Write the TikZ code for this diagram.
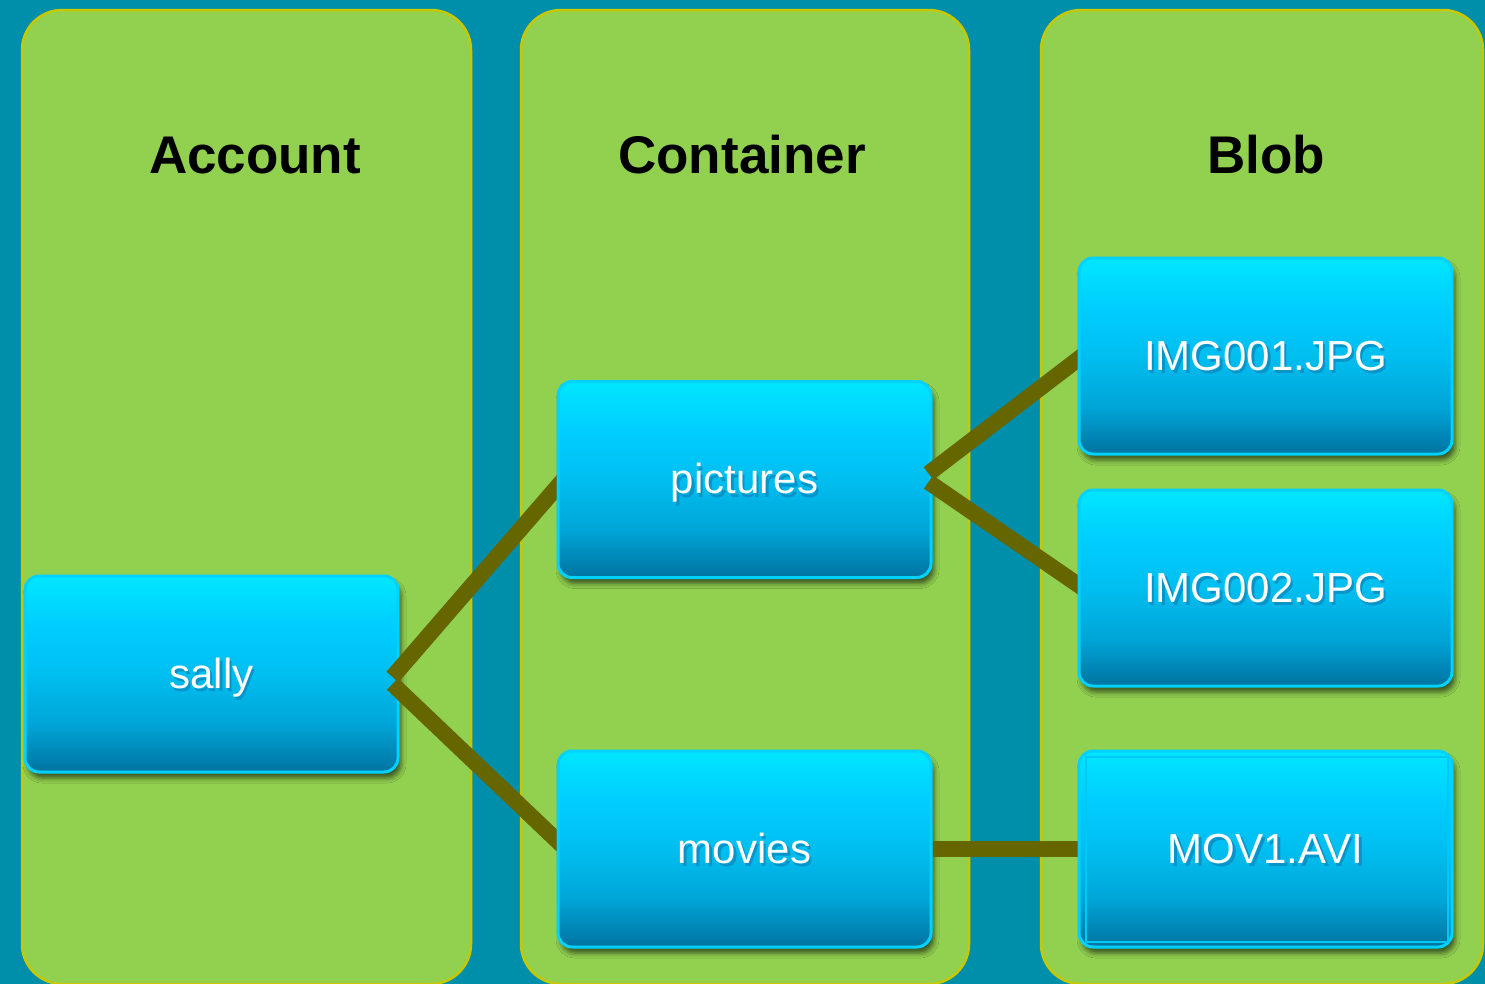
\documentclass[tikz,border=0pt]{standalone}
\usepackage{fontspec}
\setmainfont{Liberation Sans}
\usetikzlibrary{shadows.blur}
\definecolor{bgteal}{HTML}{008FAA}
\definecolor{panelfill}{HTML}{92D050}
\definecolor{panelline}{HTML}{C8C800}
\definecolor{conn}{HTML}{666600}
\definecolor{boxline}{HTML}{00D2FF}
\definecolor{innerline}{HTML}{00C8F2}
\definecolor{gtop}{HTML}{00E6FF}
\definecolor{gup}{HTML}{00CDFF}
\definecolor{gmid}{HTML}{00BEF0}
\definecolor{glow}{HTML}{00A5D7}
\definecolor{gbot}{HTML}{0073A0}
\definecolor{txtsh}{HTML}{0894C8}
\pgfdeclareverticalshading{boxgrad}{100bp}{color(0bp)=(gbot); color(25bp)=(gbot); color(37bp)=(glow); color(50bp)=(gmid); color(62bp)=(gup); color(75bp)=(gtop); color(100bp)=(gtop)}
\newcommand{\shtxt}[1]{%
  \makebox[0pt][l]{\hspace{2.5pt}\raisebox{-3.5pt}{\textcolor{txtsh}{#1}}}#1}
\tikzset{
  panel/.style={fill=panelfill, draw=panelline, line width=2.5pt, rounded corners=40pt},
  title/.style={anchor=base, font=\fontsize{53}{60}\selectfont\bfseries, text=black, inner sep=0pt},
  box/.style={rectangle, rounded corners=14pt, minimum width=373pt, minimum height=196pt,
    inner sep=0pt, draw=boxline, line width=3pt, shading=boxgrad,
    blur shadow={shadow xshift=3pt, shadow yshift=-6pt, shadow blur radius=5pt, shadow opacity=60},
    text=white, font=\fontsize{42}{50}\selectfont, text height=36pt, text depth=8pt},
  link/.style={draw=conn, line width=16pt}
}
\begin{document}
\begin{tikzpicture}[x=1pt,y=-1pt]
\useasboundingbox (0,0) rectangle (1485,983);
% background and columns
\fill[bgteal] (-5,-5) rectangle (1490,990);
\draw[panel] (22,10) rectangle (471,984);
\draw[panel] (521,10) rectangle (969,984);
\draw[panel] (1041,10) rectangle (1483,984);
\node[title] (tacc) at (255,173) {Account};
\node[title] (tcon) at (742,173) {Container};
\node[title] (tblob) at (1266,173) {Blob};
% entry points of the connectors (left edges of the boxes drawn later)
\coordinate (picIn) at (570,472);
\coordinate (movIn) at (570,853);
\coordinate (imgAIn) at (1090,350);
\coordinate (imgBIn) at (1090,593);
\coordinate (movAIn) at (1079,849);
% account
\node[box] (sally) at (211.5,674) {\shtxt{sally}};
\draw[link] ([xshift=-7pt,yshift=-3pt]sally.east) -- (picIn);
\draw[link] ([xshift=-7pt,yshift=-10pt]sally.east) -- (movIn);
% containers
\node[box] (pictures) at (744.5,479.5) {\shtxt{pictures}};
\node[box] (movies) at (744.5,849) {\shtxt{movies}};
\draw[link] ([xshift=-4pt,yshift=6pt]pictures.east) -- (imgAIn);
\draw[link] ([xshift=-4pt,yshift=-2.5pt]pictures.east) -- (imgBIn);
\draw[link] (movies.east) -- (movAIn);
% blobs
\node[box] (img1) at (1265.5,356) {\shtxt{IMG001.JPG}};
\node[box] (img2) at (1265.5,588) {\shtxt{IMG002.JPG}};
\node[box] (mov) at (1265.5,849) {\shtxt{MOV1.AVI}};
\draw[innerline, line width=2pt] ([xshift=8pt,yshift=-7pt]mov.north west) rectangle ([xshift=-6pt,yshift=7pt]mov.south east);
\end{tikzpicture}
\end{document}
